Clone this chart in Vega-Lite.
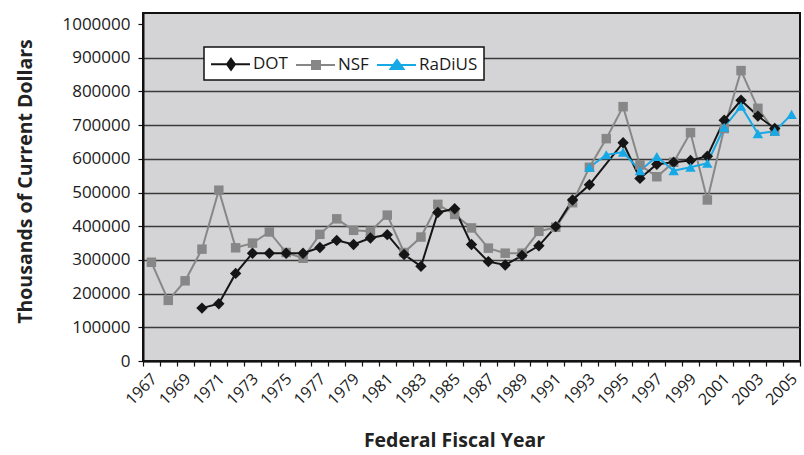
{
  "$schema": "https://vega.github.io/schema/vega-lite/v6.json",
  "width": 657,
  "height": 348,
  "autosize": {"type": "none"},
  "padding": {"left": 143, "top": 13, "right": 4, "bottom": 94},
  "background": "white",
  "config": {
    "view": {"fill": "#d4d4d6", "stroke": "#111111", "strokeWidth": 2},
    "font": "Open Sans"
  },
  "data": {
    "values": [
      {"year": 1967, "series": "NSF", "value": 293000},
      {"year": 1968, "series": "NSF", "value": 180000},
      {"year": 1969, "series": "NSF", "value": 238000},
      {"year": 1970, "series": "NSF", "value": 332000},
      {"year": 1971, "series": "NSF", "value": 507000},
      {"year": 1972, "series": "NSF", "value": 336000},
      {"year": 1973, "series": "NSF", "value": 350000},
      {"year": 1974, "series": "NSF", "value": 383000},
      {"year": 1975, "series": "NSF", "value": 322000},
      {"year": 1976, "series": "NSF", "value": 305000},
      {"year": 1977, "series": "NSF", "value": 376000},
      {"year": 1978, "series": "NSF", "value": 422000},
      {"year": 1979, "series": "NSF", "value": 388000},
      {"year": 1980, "series": "NSF", "value": 385000},
      {"year": 1981, "series": "NSF", "value": 433000},
      {"year": 1982, "series": "NSF", "value": 322000},
      {"year": 1983, "series": "NSF", "value": 368000},
      {"year": 1984, "series": "NSF", "value": 465000},
      {"year": 1985, "series": "NSF", "value": 435000},
      {"year": 1986, "series": "NSF", "value": 395000},
      {"year": 1987, "series": "NSF", "value": 335000},
      {"year": 1988, "series": "NSF", "value": 320000},
      {"year": 1989, "series": "NSF", "value": 320000},
      {"year": 1990, "series": "NSF", "value": 385000},
      {"year": 1991, "series": "NSF", "value": 397000},
      {"year": 1992, "series": "NSF", "value": 470000},
      {"year": 1993, "series": "NSF", "value": 575000},
      {"year": 1994, "series": "NSF", "value": 660000},
      {"year": 1995, "series": "NSF", "value": 755000},
      {"year": 1996, "series": "NSF", "value": 582000},
      {"year": 1997, "series": "NSF", "value": 547000},
      {"year": 1998, "series": "NSF", "value": 590000},
      {"year": 1999, "series": "NSF", "value": 678000},
      {"year": 2000, "series": "NSF", "value": 478000},
      {"year": 2001, "series": "NSF", "value": 690000},
      {"year": 2002, "series": "NSF", "value": 862000},
      {"year": 2003, "series": "NSF", "value": 750000},
      {"year": 2004, "series": "NSF", "value": 682000},
      {"year": 1970, "series": "DOT", "value": 157000},
      {"year": 1971, "series": "DOT", "value": 170000},
      {"year": 1972, "series": "DOT", "value": 260000},
      {"year": 1973, "series": "DOT", "value": 320000},
      {"year": 1974, "series": "DOT", "value": 320000},
      {"year": 1975, "series": "DOT", "value": 320000},
      {"year": 1976, "series": "DOT", "value": 320000},
      {"year": 1977, "series": "DOT", "value": 337000},
      {"year": 1978, "series": "DOT", "value": 358000},
      {"year": 1979, "series": "DOT", "value": 346000},
      {"year": 1980, "series": "DOT", "value": 365000},
      {"year": 1981, "series": "DOT", "value": 375000},
      {"year": 1982, "series": "DOT", "value": 316000},
      {"year": 1983, "series": "DOT", "value": 281000},
      {"year": 1984, "series": "DOT", "value": 441000},
      {"year": 1985, "series": "DOT", "value": 452000},
      {"year": 1986, "series": "DOT", "value": 346000},
      {"year": 1987, "series": "DOT", "value": 295000},
      {"year": 1988, "series": "DOT", "value": 285000},
      {"year": 1989, "series": "DOT", "value": 313000},
      {"year": 1990, "series": "DOT", "value": 342000},
      {"year": 1991, "series": "DOT", "value": 399000},
      {"year": 1992, "series": "DOT", "value": 478000},
      {"year": 1993, "series": "DOT", "value": 523000},
      {"year": 1995, "series": "DOT", "value": 648000},
      {"year": 1996, "series": "DOT", "value": 542000},
      {"year": 1997, "series": "DOT", "value": 584000},
      {"year": 1998, "series": "DOT", "value": 590000},
      {"year": 1999, "series": "DOT", "value": 595000},
      {"year": 2000, "series": "DOT", "value": 608000},
      {"year": 2001, "series": "DOT", "value": 715000},
      {"year": 2002, "series": "DOT", "value": 774000},
      {"year": 2003, "series": "DOT", "value": 727000},
      {"year": 2004, "series": "DOT", "value": 690000},
      {"year": 1993, "series": "RaDiUS", "value": 575000},
      {"year": 1994, "series": "RaDiUS", "value": 612000},
      {"year": 1995, "series": "RaDiUS", "value": 620000},
      {"year": 1996, "series": "RaDiUS", "value": 565000},
      {"year": 1997, "series": "RaDiUS", "value": 607000},
      {"year": 1998, "series": "RaDiUS", "value": 565000},
      {"year": 1999, "series": "RaDiUS", "value": 575000},
      {"year": 2000, "series": "RaDiUS", "value": 587000},
      {"year": 2001, "series": "RaDiUS", "value": 694000},
      {"year": 2002, "series": "RaDiUS", "value": 756000},
      {"year": 2003, "series": "RaDiUS", "value": 675000},
      {"year": 2004, "series": "RaDiUS", "value": 682000},
      {"year": 2005, "series": "RaDiUS", "value": 732000}
    ]
  },
  "encoding": {
    "x": {
      "field": "year",
      "type": "quantitative",
      "scale": {"domain": [1966.5, 2005.5], "nice": false, "zero": false},
      "axis": {
        "values": [1966.5, 1967.5, 1968.5, 1969.5, 1970.5, 1971.5, 1972.5, 1973.5, 1974.5, 1975.5, 1976.5, 1977.5, 1978.5, 1979.5, 1980.5, 1981.5, 1982.5, 1983.5, 1984.5, 1985.5, 1986.5, 1987.5, 1988.5, 1989.5, 1990.5, 1991.5, 1992.5, 1993.5, 1994.5, 1995.5, 1996.5, 1997.5, 1998.5, 1999.5, 2000.5, 2001.5, 2002.5, 2003.5, 2004.5, 2005.5],
        "labelExpr": "(datum.value + 0.5) % 2 == 1 ? '' + (datum.value + 0.5) : ''",
        "labelAngle": -45,
        "labelAlign": "right",
        "labelBaseline": "middle",
        "labelOffset": 11,
        "labelPadding": 10,
        "labelOverlap": false,
        "labelFontSize": 16,
        "labelColor": "#1a1a1a",
        "labelFont": "Open Sans",
        "tickSize": 5,
        "tickColor": "#111111",
        "tickWidth": 1.2,
        "domainColor": "#111111",
        "domainWidth": 2,
        "grid": false,
        "title": "Federal Fiscal Year",
        "titleFont": "Open Sans",
        "titleFontSize": 19.5,
        "titleFontWeight": "bold",
        "titleColor": "#222222",
        "titleX": 311,
        "titleY": 79,
        "titleAlign": "center",
        "titleBaseline": "middle"
      }
    },
    "y": {
      "field": "value",
      "type": "quantitative",
      "scale": {"domain": [0, 1033000], "nice": false},
      "axis": {
        "values": [0, 100000, 200000, 300000, 400000, 500000, 600000, 700000, 800000, 900000, 1000000],
        "format": "d",
        "labelFontSize": 17,
        "labelColor": "#1a1a1a",
        "labelFont": "Open Sans",
        "labelPadding": 8,
        "tickSize": 5,
        "tickColor": "#111111",
        "tickWidth": 1.2,
        "domainColor": "#111111",
        "domainWidth": 2,
        "grid": true,
        "gridColor": {"condition": {"test": "datum.value >= 1000000", "value": "transparent"}, "value": "#3a3a3a"},
        "gridWidth": 1.5,
        "title": "Thousands of Current Dollars",
        "titleFont": "Open Sans",
        "titleFontSize": 19.5,
        "titleFontWeight": "bold",
        "titleColor": "#222222",
        "titleAngle": -90,
        "titleX": -118,
        "titleY": 168,
        "titleAlign": "center",
        "titleBaseline": "middle"
      }
    }
  },
  "layer": [
    {
      "mark": {"type": "line", "strokeWidth": 2},
      "encoding": {
        "order": {"field": "year", "type": "quantitative"},
        "stroke": {
          "field": "series",
          "type": "nominal",
          "scale": {"domain": ["DOT", "NSF", "RaDiUS"], "range": ["#151515", "#878787", "#17a9e6"]},
          "legend": {
            "orient": "none",
            "legendX": 61,
            "legendY": 34,
            "direction": "horizontal",
            "title": null,
            "fillColor": "white",
            "strokeColor": "#111111",
            "cornerRadius": 0,
            "padding": 6,
            "labelFont": "Open Sans",
            "labelFontSize": 17,
            "labelColor": "#1a1a1a",
            "labelOffset": 21,
            "columnPadding": 4,
            "symbolSize": 400,
            "symbolStrokeWidth": 2,
            "symbolType": "M-1,0H1",
            "encode": {
              "legend": {
                "update": {
                  "strokeWidth": {"value": 1.5}
                }
              },
              "symbols": {
                "update": {
                  "shape": {"signal": "datum.value === 'DOT' ? 'M-1,0H2.9M1,-0.55L1.4,0L1,0.55L0.6,0Z' : datum.value === 'NSF' ? 'M-1,0H2.9M0.6,-0.4H1.4V0.4H0.6Z' : 'M-1,0H2.9M1,-0.5L1.65,0.4H0.35Z'"},
                  "fill": {"signal": "datum.value === 'DOT' ? '#151515' : datum.value === 'NSF' ? '#878787' : '#17a9e6'"},
                  "strokeWidth": {"value": 2},
                  "opacity": {"value": 1}
                }
              }
            }
          }
        }
      }
    },
    {
      "mark": {"type": "point", "filled": true, "opacity": 1},
      "encoding": {
        "fill": {
          "field": "series",
          "type": "nominal",
          "scale": {"domain": ["NSF", "DOT", "RaDiUS"], "range": ["#878787", "#151515", "#17a9e6"]},
          "legend": null
        },
        "shape": {
          "field": "series",
          "type": "nominal",
          "scale": {"domain": ["RaDiUS", "DOT", "NSF"], "range": ["triangle-up", "diamond", "square"]},
          "legend": null
        },
        "size": {
          "field": "series",
          "type": "nominal",
          "scale": {"domain": ["NSF", "RaDiUS", "DOT"], "range": [90, 130, 150]},
          "legend": null
        }
      }
    }
  ]
}
